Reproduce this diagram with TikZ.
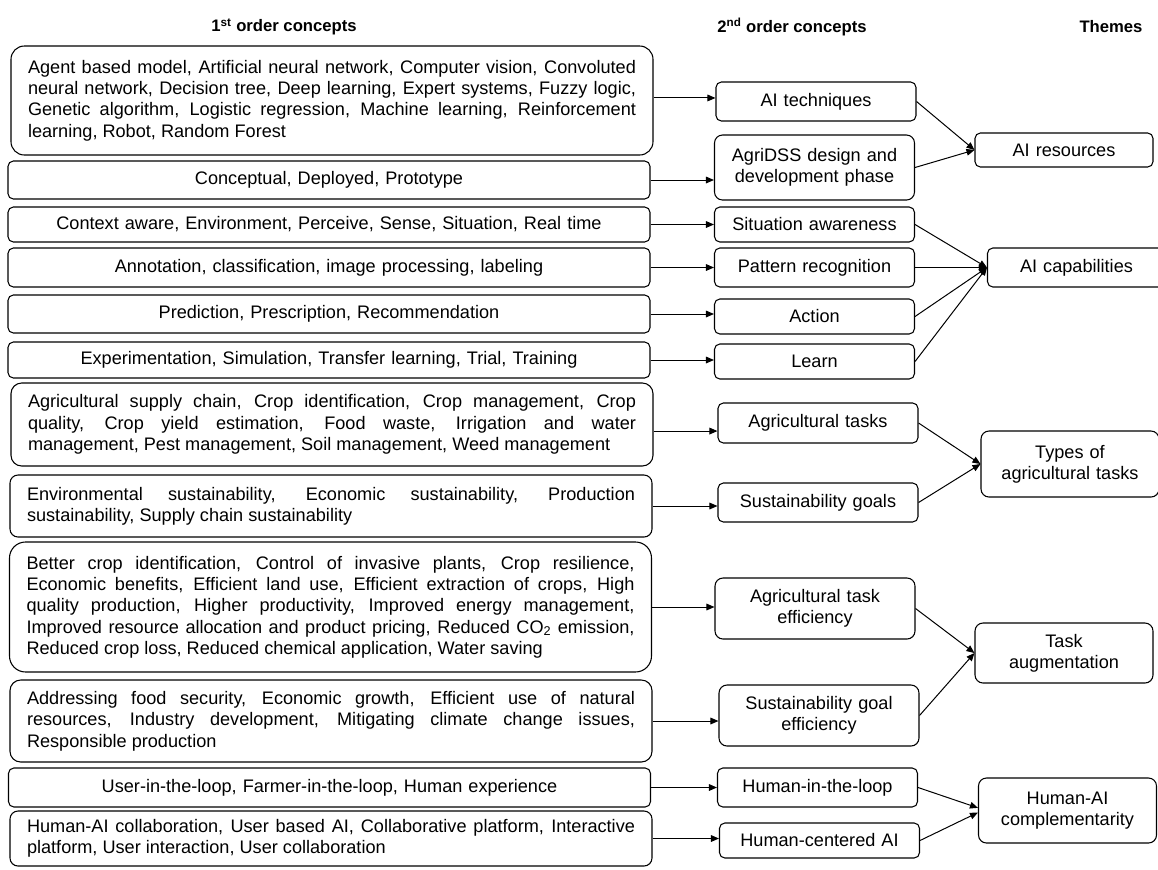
\documentclass[tikz,border=0pt]{standalone}
\usepackage{fontspec}
\setmainfont{Liberation Sans}
\usetikzlibrary{arrows.meta}
\begin{document}
\hyphenpenalty=10000\relax
\exhyphenpenalty=10000\relax
\begin{tikzpicture}[x=0.75pt,y=-0.75pt,
  every node/.style={font=\fontsize{13.6}{16}\selectfont},
  box/.style={draw, line width=0.8pt, inner sep=0pt},
  lbox/.style={box, minimum width=481.5pt, text width=456pt, align=justify},
  lcbox/.style={box, minimum width=481.5pt, text width=456pt, align=center, rounded corners=4pt},
  cbox/.style={box, minimum width=150pt, text width=142pt, align=center},
  tbox/.style={box, minimum width=133.5pt, text width=128pt, align=center},
  arr/.style={line width=0.75pt, -{Triangle[length=6pt,width=5pt]}},
  head/.style={font=\fontsize{12.5}{14}\selectfont\bfseries}]
\useasboundingbox (0,0) rectangle (1158,869);

% headers
\node[head] (h1) at (284,27) {1\textsuperscript{st} order concepts};
\node[head] (h2) at (792,27) {2\textsuperscript{nd} order concepts};
\node[head] (h3) at (1111,27) {Themes};

% first order concepts
\node[lbox, minimum height=81.75pt, rounded corners=10pt] (A) at (332,100.5) {Agent based model, Artificial neural network, Computer vision, Convoluted\linebreak neural network, Decision tree, Deep learning, Expert systems, Fuzzy logic,\linebreak Genetic algorithm, Logistic regression, Machine learning, Reinforcement\linebreak learning, Robot, Random Forest};
\node[lcbox, minimum height=28.5pt] (B) at (329,180) {Conceptual, Deployed, Prototype};
\node[lcbox, minimum height=26.25pt] (C) at (329,224.5) {Context aware, Environment, Perceive, Sense, Situation, Real time};
\node[lcbox, minimum height=29.25pt] (D) at (329,267.5) {Annotation, classification, image processing, labeling};
\node[lcbox, minimum height=28.5pt] (E) at (329,314) {Prediction, Prescription, Recommendation};
\node[lcbox, minimum height=27pt] (F) at (329,360) {Experimentation, Simulation, Transfer learning, Trial, Training};
\node[lbox, minimum height=62.25pt, rounded corners=8pt] (G) at (332,424.5) {Agricultural supply chain, Crop identification, Crop management, Crop\linebreak quality, Crop yield estimation, Food waste, Irrigation and water\linebreak management, Pest management, Soil management, Weed management};
\node[lbox, minimum height=46.5pt, rounded corners=6pt] (H) at (331,506) {Environmental sustainability, Economic sustainability, Production\linebreak sustainability, Supply chain sustainability};
\node[lbox, minimum height=97.5pt, rounded corners=12pt] (I) at (330.5,607) {Better crop identification, Control of invasive plants, Crop resilience,\linebreak Economic benefits, Efficient land use, Efficient extraction of crops, High\linebreak quality production, Higher productivity, Improved energy management,\linebreak Improved resource allocation and product pricing, Reduced CO\textsubscript{2} emission,\linebreak Reduced crop loss, Reduced chemical application, Water saving};
\node[lbox, minimum height=61.5pt, rounded corners=8pt] (J) at (331,721) {Addressing food security, Economic growth, Efficient use of natural\linebreak resources, Industry development, Mitigating climate change issues,\linebreak Responsible production};
\node[lcbox, minimum height=29.25pt] (K) at (329.5,787.5) {User-in-the-loop, Farmer-in-the-loop, Human experience};
\node[lbox, minimum height=41.25pt, rounded corners=6pt] (L) at (331,838.5) {Human-AI collaboration, User based AI, Collaborative platform, Interactive\linebreak platform, User interaction, User collaboration};

% second order concepts
\node[cbox, minimum height=29.25pt, rounded corners=4pt] (tech) at (816,101.5) {AI techniques};
\node[cbox, minimum height=48.75pt, rounded corners=6pt] (dss) at (814.5,167.5) {AgriDSS design and\\development phase};
\node[cbox, minimum height=26.25pt, rounded corners=4pt] (sa) at (814.5,224.5) {Situation awareness};
\node[cbox, minimum height=29.25pt, rounded corners=4pt] (pr) at (814.5,267.5) {Pattern recognition};
\node[cbox, minimum height=26.25pt, rounded corners=4pt] (act) at (814.5,316.5) {Action};
\node[cbox, minimum height=26.25pt, rounded corners=4pt] (learn) at (814.5,361.5) {Learn};
\node[cbox, minimum height=30pt, rounded corners=4pt] (agt) at (818,423) {Agricultural tasks};
\node[cbox, minimum height=29.25pt, rounded corners=4pt] (sg) at (818,502.5) {Sustainability goals};
\node[cbox, minimum height=45.75pt, rounded corners=6pt] (ate) at (815,608.5) {Agricultural task\\efficiency};
\node[cbox, minimum height=45.75pt, rounded corners=6pt] (sge) at (819,715.5) {Sustainability goal\\efficiency};
\node[cbox, minimum height=29.25pt, rounded corners=4pt] (hitl) at (817.5,787.5) {Human-in-the-loop};
\node[cbox, minimum height=26.25pt, rounded corners=4pt] (hcai) at (819.5,840.5) {Human-centered AI};

% themes
\node[tbox, minimum height=25.5pt, rounded corners=4pt] (res) at (1064,150) {AI resources};
\node[tbox, minimum height=29.25pt, rounded corners=4pt] (cap) at (1076.5,267.5) {AI capabilities};
\node[tbox, minimum height=49.5pt, rounded corners=6pt] (types) at (1070,464) {Types of\\agricultural tasks};
\node[tbox, minimum height=45pt, rounded corners=6pt] (aug) at (1064,653) {Task\\augmentation};
\node[tbox, minimum height=48.75pt, rounded corners=6pt] (hac) at (1067.5,810.5) {Human-AI\\complementarity};

% first -> second
\draw[arr] ([yshift=1.9pt]A.east) -- ([yshift=1.9pt]A.east -| tech.west);
\draw[arr] (B.east) -- (B.east -| dss.west);
\draw[arr] (C.east) -- (C.east -| sa.west);
\draw[arr] (D.east) -- (D.east -| pr.west);
\draw[arr] (E.east) -- (E.east -| act.west);
\draw[arr] (F.east) -- (F.east -| learn.west);
\draw[arr] ([yshift=-4.9pt]G.east) -- ([yshift=-4.9pt]G.east -| agt.west);
\draw[arr] (H.east) -- (H.east -| sg.west);
\draw[arr] (I.east) -- (I.east -| ate.west);
\draw[arr] (J.east) -- (J.east -| sge.west);
\draw[arr] (K.east) -- (K.east -| hitl.west);
\draw[arr] (L.east) -- (L.east -| hcai.west);

% second -> themes
\draw[arr] (tech.east) -- (res.west);
\draw[arr] (dss.east) -- (res.west);
\draw[arr] (sa.east) -- (cap.west);
\draw[arr] (pr.east) -- (cap.west);
\draw[arr] (act.east) -- (cap.west);
\draw[arr] (learn.east) -- (cap.west);
\draw[arr] (agt.east) -- (types.west);
\draw[arr] (sg.east) -- (types.west);
\draw[arr] (ate.east) -- (aug.west);
\draw[arr] (sge.east) -- (aug.west);
\draw[arr] (hitl.east) -- ([yshift=2pt]hac.west);
\draw[arr] (hcai.east) -- ([yshift=-1.5pt]hac.west);
\end{tikzpicture}
\end{document}
